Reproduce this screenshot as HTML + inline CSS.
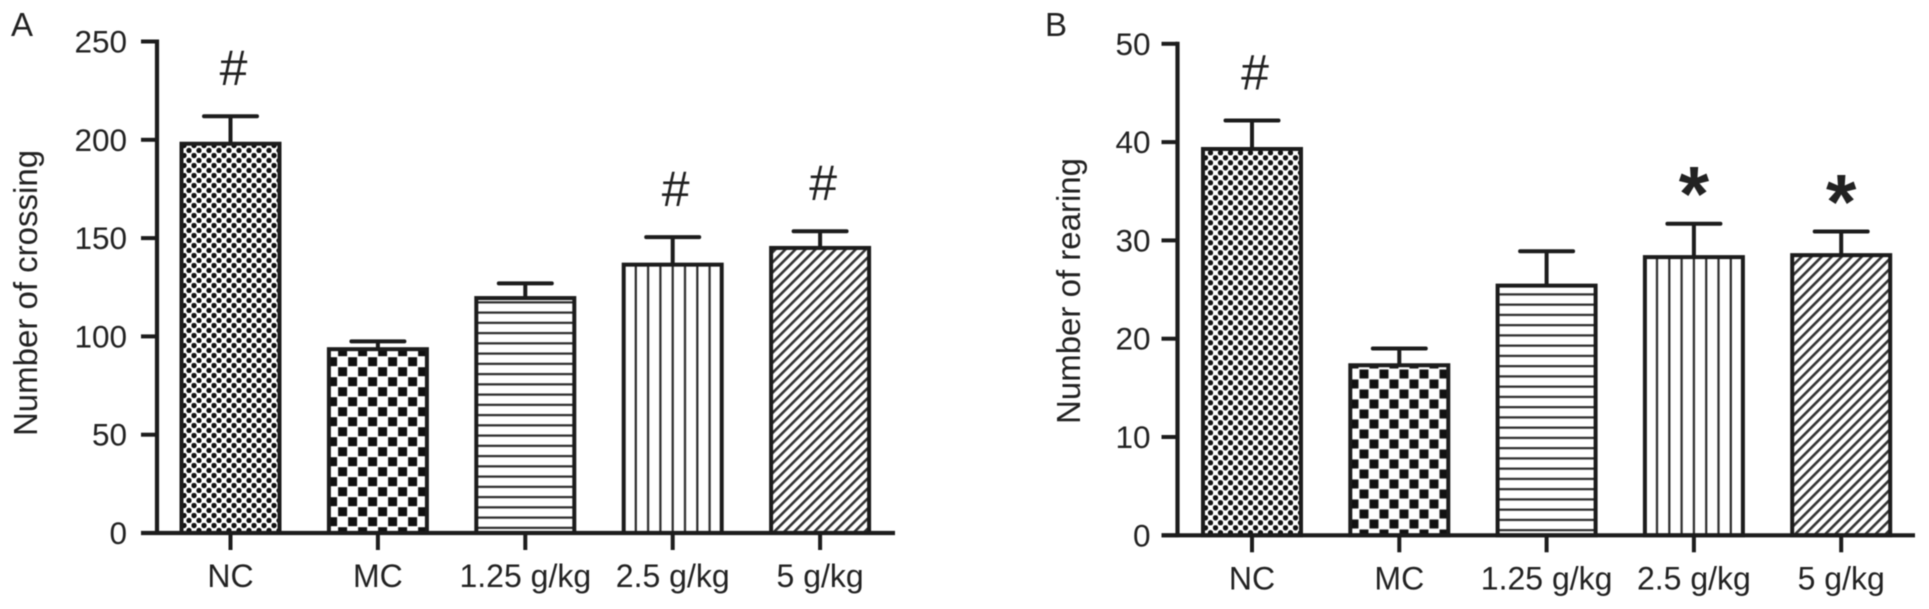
<!DOCTYPE html>
<html lang="en">
<head>
<meta charset="utf-8">
<title>Number of crossing and rearing by group</title>
<style>
html,body{margin:0;padding:0;background:#fff;width:1929px;height:609px;overflow:hidden}
svg{display:block;filter:blur(.55px)}
text{font-family:"Liberation Sans",sans-serif;fill:#222}
</style>
</head>
<body>
<svg id="chart" xmlns="http://www.w3.org/2000/svg" width="1929" height="609" viewBox="0 0 1929 609"></svg>
<script>
const categories = ['NC', 'MC', '1.25 g/kg', '2.5 g/kg', '5 g/kg'];
const crossingMeans = [198, 93.5, 119.5, 136.5, 145];
const crossingErrorTops = [212, 97.5, 127, 150.5, 153.5];
const crossingMarks = ['#', '', '', '#', '#'];
const crossingTicks = [0, 50, 100, 150, 200, 250];
const rearingMeans = [39.3, 17.3, 25.4, 28.3, 28.5];
const rearingErrorTops = [42.2, 19, 28.9, 31.7, 30.9];
const rearingMarks = ['#', '', '', '*', '*'];
const rearingTicks = [0, 10, 20, 30, 40, 50];

const NS = 'http://www.w3.org/2000/svg';
const root = document.getElementById('chart');
const INK = '#1c1c1c';

function make(tag, attrs, parent) {
  const el = document.createElementNS(NS, tag);
  for (const k in attrs) el.setAttribute(k, attrs[k]);
  (parent || root).appendChild(el);
  return el;
}

function addPattern(defs, id, kind, barX, baseY) {
  const sizes = { dots: [10, 10], check: [20, 20], hlines: [10, 10.25], vlines: [12.3, 12.3], diag: [7.1, 7.1] };
  const s = sizes[kind];
  let transform = 'translate(' + barX + ' ' + baseY + ')';
  if (kind === 'diag') transform += ' rotate(45)';
  const p = make('pattern', { id: id, patternUnits: 'userSpaceOnUse', width: s[0], height: s[1], patternTransform: transform }, defs);
  make('rect', { x: 0, y: 0, width: s[0], height: s[1], fill: '#fff' }, p);
  if (kind === 'dots') {
    make('circle', { cx: 2.5, cy: 2.5, r: 2.7, fill: '#111' }, p);
    make('circle', { cx: 7.5, cy: 7.5, r: 2.7, fill: '#111' }, p);
  } else if (kind === 'check') {
    make('rect', { x: 9.2, y: 14.2, width: 9, height: 9, fill: '#111' }, p);
    make('rect', { x: 9.2, y: -5.8, width: 9, height: 9, fill: '#111' }, p);
    make('rect', { x: -0.8, y: 4.2, width: 9, height: 9, fill: '#111' }, p);
    make('rect', { x: 19.2, y: 4.2, width: 9, height: 9, fill: '#111' }, p);
  } else if (kind === 'hlines') {
    make('rect', { x: 0, y: 4, width: s[0], height: 2.2, fill: '#2a2a2a' }, p);
  } else if (kind === 'vlines') {
    make('rect', { x: 11, y: 0, width: 2.2, height: s[1], fill: '#2a2a2a' }, p);
    make('rect', { x: -1.3, y: 0, width: 2.2, height: s[1], fill: '#2a2a2a' }, p);
  } else {
    make('rect', { x: 0, y: 0, width: 2.6, height: s[1], fill: '#333' }, p);
  }
}

function drawPanel(cfg) {
  const g = make('g', {});
  
  
  const defs = make('defs', {}, g);
  const yOf = v => cfg.y0 - (v / cfg.yMax) * (cfg.y0 - cfg.yTop);
  const xOf = i => cfg.x0 + i * cfg.step;
  const kinds = ['dots', 'check', 'hlines', 'vlines', 'diag'];

  const letter = make('text', { x: cfg.letterX, y: 36, 'font-size': 33 }, g);
  letter.textContent = cfg.letter;
  
  

  const title = make('text', {
    x: 0, y: 0, 'font-size': 33, 'text-anchor': 'middle',
    transform: 'translate(' + cfg.titleX + ' ' + cfg.titleY + ') rotate(-90)'
  }, g);
  title.textContent = cfg.title;
  
  

  cfg.means.forEach((m, i) => {
    const cx = xOf(i);
    const barX = cx - 49;
    const pid = cfg.letter + '-' + kinds[i];
    addPattern(defs, pid, kinds[i], barX, cfg.y0);

    const err = make('path', {
      d: 'M' + (cx - 26.5) + ' ' + yOf(cfg.errs[i]) + 'H' + (cx + 26.5) + 'M' + cx + ' ' + yOf(cfg.errs[i]) + 'V' + yOf(m),
      stroke: INK, 'stroke-width': 4, fill: 'none', 'stroke-linecap': 'round'
    }, g);
    
    

    const bar = make('rect', {
      x: barX, y: yOf(m), width: 98, height: cfg.y0 - yOf(m),
      fill: 'url(#' + pid + ')', stroke: INK, 'stroke-width': 4
    }, g);
    
    

    const tick = make('line', { x1: cx, x2: cx, y1: cfg.y0, y2: cfg.y0 + 17, stroke: INK, 'stroke-width': 4 }, g);
    
    

    const label = make('text', { x: cx, y: cfg.y0 + 54, 'font-size': 32, 'text-anchor': 'middle' }, g);
    label.textContent = categories[i];
    
    

    if (cfg.marks[i] === '#') {
      const mark = make('text', { x: cx + 3, y: yOf(cfg.errs[i]) - 31, 'font-size': 50, 'text-anchor': 'middle' }, g);
      mark.textContent = '#';
      
      
    } else if (cfg.marks[i] === '*') {
      const mark = make('text', { x: cx, y: yOf(cfg.errs[i]) - 3, 'font-size': 78, 'font-weight': 'bold', 'text-anchor': 'middle' }, g);
      mark.textContent = '*';
      
      
    }
  });

  const yAxis = make('path', {
    d: 'M' + cfg.axisX + ' ' + (cfg.yTop - 2) + 'V' + (cfg.y0 + 2),
    stroke: INK, 'stroke-width': 4.2, fill: 'none'
  }, g);
  
  

  const xAxis = make('line', {
    x1: cfg.axisX - 16, x2: cfg.axisEnd, y1: cfg.y0, y2: cfg.y0,
    stroke: INK, 'stroke-width': 4.2
  }, g);
  
  

  cfg.ticks.forEach(t => {
    const tick = make('line', { x1: cfg.axisX - 16, x2: cfg.axisX, y1: yOf(t), y2: yOf(t), stroke: INK, 'stroke-width': 4 }, g);
    
    

    const label = make('text', { x: cfg.labelX, y: yOf(t) + 11, 'font-size': 31.5, 'text-anchor': 'end' }, g);
    label.textContent = String(t);
    
    
  });
}

drawPanel({
  name: 'panel-a-crossing', letter: 'A', letterX: 11, title: 'Number of crossing', titleX: 37, titleY: 293,
  means: crossingMeans, errs: crossingErrorTops, marks: crossingMarks, ticks: crossingTicks,
  yMax: 250, y0: 533, yTop: 41.5, axisX: 157, axisEnd: 895, labelX: 127, x0: 230.5, step: 147.4
});
drawPanel({
  name: 'panel-b-rearing', letter: 'B', letterX: 1045, title: 'Number of rearing', titleX: 1080, titleY: 291,
  means: rearingMeans, errs: rearingErrorTops, marks: rearingMarks, ticks: rearingTicks,
  yMax: 50, y0: 535.3, yTop: 43.8, axisX: 1177.5, axisEnd: 1915, labelX: 1150.5, x0: 1252, step: 147.3
});
</script>
</body>
</html>
